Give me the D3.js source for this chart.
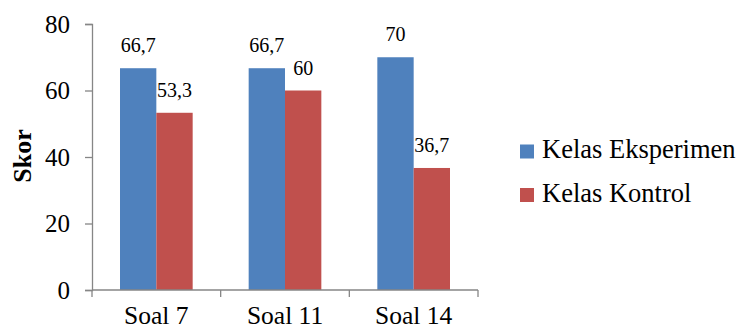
<!DOCTYPE html>
<html><head><meta charset="utf-8">
<script src="https://cdn.jsdelivr.net/npm/d3@7"></script>
<style>body{margin:0;background:#fff}svg text{font-family:"Times New Roman","Liberation Serif",Tinos,"Nimbus Roman",Times,serif !important;fill:#000}</style>
</head><body>
<script>
const categories = ["Soal 7", "Soal 11", "Soal 14"];
const seriesNames = ["Kelas Eksperimen", "Kelas Kontrol"];
const eksperimen = [66.7, 66.7, 70];
const kontrol = [53.3, 60, 36.7];
const yTicks = [0, 20, 40, 60, 80];
const colors = ["#4F81BD", "#C0504D"];

const W = 737, H = 331;
const svg = d3.select("body").append("svg").attr("width", W).attr("height", H);

const x = d3.scaleBand().domain(categories).range([92, 478]).paddingInner(0).paddingOuter(0);
const y = d3.scaleLinear().domain([0, 80]).range([290, 24]);
const inner = d3.scaleBand().domain([0, 1]).range([28, x.bandwidth() - 28]);

const fmt = v => String(v).replace(".", ",");
const data = categories.map((c, i) => ({c, vals: [eksperimen[i], kontrol[i]]}));

// bars
data.forEach(d => {
  d.vals.forEach((v, s) => {
    svg.append("rect")
      .attr("x", x(d.c) + inner(s))
      .attr("y", y(v))
      .attr("width", inner.bandwidth())
      .attr("height", y(0) - y(v))
      .attr("fill", colors[s]);
    svg.append("text")
      .attr("x", x(d.c) + inner(s) + inner.bandwidth() / 2)
      .attr("y", y(v) - 16)
      .attr("text-anchor", "middle")
      .attr("font-size", 20)
      .text(fmt(v));
  });
});

// y axis
const yAxis = svg.append("g").attr("transform", "translate(92,0)")
  .call(d3.axisLeft(y).tickValues(yTicks).tickSize(7).tickPadding(15));
yAxis.attr("font-family", null);
yAxis.selectAll("text").attr("font-size", 25).attr("fill", "#000");
yAxis.selectAll("line,path").attr("stroke", "#868686").attr("stroke-width", 1.3);

// x axis
const xAxis = svg.append("g").attr("transform", "translate(0,290)")
  .call(d3.axisBottom(x).tickSize(0).tickPadding(28));
xAxis.attr("font-family", null);
xAxis.select("path").attr("d", "M92,0H478").attr("stroke", "#868686").attr("stroke-width", 1.3);
xAxis.selectAll("text").attr("font-size", 25.5).attr("fill", "#000").attr("dy", "0.25em");
const bounds = [...categories.map(c => x(c)), x(categories[categories.length - 1]) + x.bandwidth()];
xAxis.selectAll(".sep").data(bounds).enter().append("line")
  .attr("x1", d => d).attr("x2", d => d).attr("y1", 0).attr("y2", 7)
  .attr("stroke", "#868686").attr("stroke-width", 1.3);

// y title
svg.append("text")
  .attr("transform", "translate(31,156) rotate(-90)")
  .attr("text-anchor", "middle")
  .attr("font-size", 26)
  .attr("font-weight", "bold")
  .text("Skor");

// legend
const lg = svg.append("g");
seriesNames.forEach((n, i) => {
  const yy = 158 + i * 43.5;
  lg.append("rect").attr("x", 520).attr("y", yy - 13.5).attr("width", 14).attr("height", 14).attr("fill", colors[i]);
  lg.append("text").attr("x", 542).attr("y", yy).attr("font-size", 26.5).text(n);
});
</script>
</body></html>
